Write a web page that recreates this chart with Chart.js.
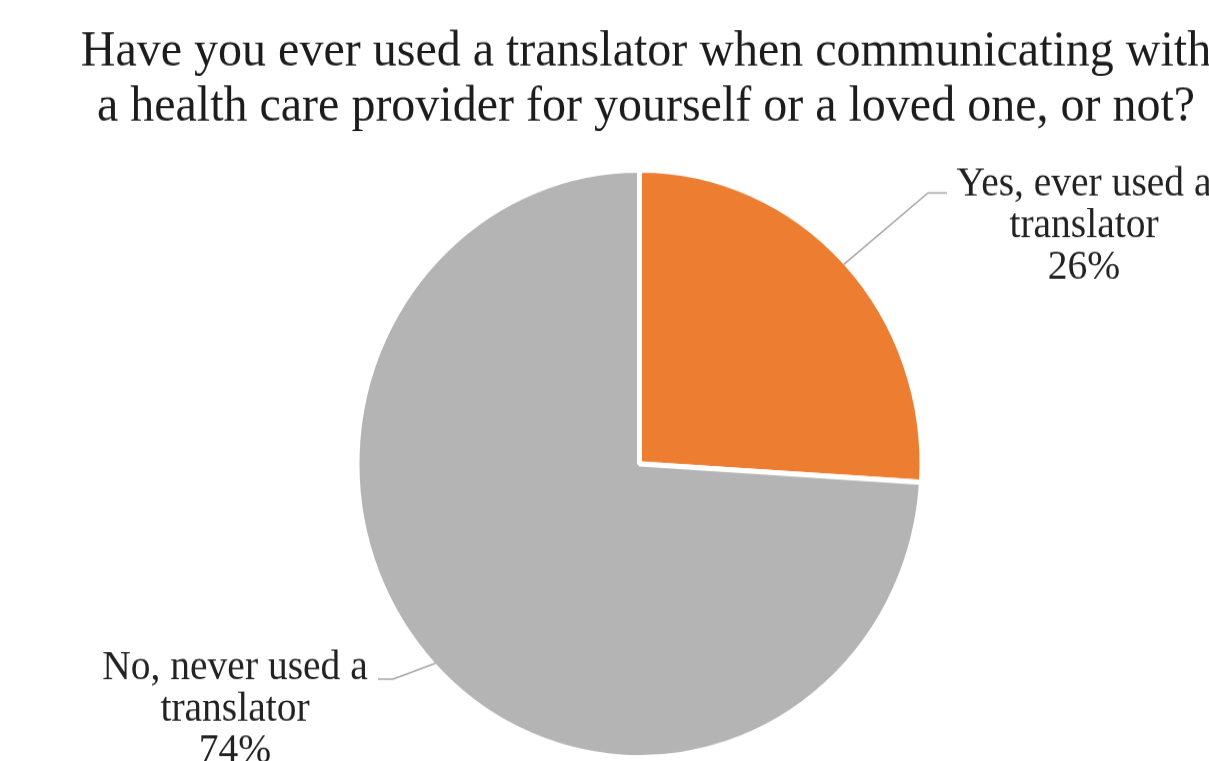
<!DOCTYPE html>
<html>
<head>
<meta charset="utf-8">
<script src="https://cdn.jsdelivr.net/npm/chart.js@4.4.0/dist/chart.umd.min.js"></script>
<style>
  html, body { margin: 0; padding: 0; background: #fff; }
  body { width: 1209px; height: 761px; overflow: hidden; }
  /* the source picture is a little taller than wide, so stretch the whole chart */
  #wrap { width: 1209px; height: 732px; transform: scaleY(1.04); transform-origin: 0 0; }
</style>
</head>
<body>
<div id="wrap"><canvas id="chart"></canvas></div>
<script>
const titleLines = [
  'Have you ever used a translator when communicating with',
  'a health care provider for yourself or a loved one, or not?'
];
const categories = ['Yes, ever used a translator', 'No, never used a translator'];
const labelLines = [['Yes, ever used a', 'translator'], ['No, never used a', 'translator']];
const shares = [26, 74];
const colors = ['#ED7D31', '#B4B4B4'];

// where each callout text and its leader line go
const callouts = [
  { x: 1084, y: 187.5, bend: [928, 185.5], end: [947, 185.5] },
  { x: 235, y: 653, bend: [393, 653], end: [378, 653] }
];

const calloutPlugin = {
  id: 'callouts',
  afterDraw(chart) {
    const ctx = chart.ctx;
    const meta = chart.getDatasetMeta(0);
    ctx.save();
    ctx.textAlign = 'center';
    ctx.textBaseline = 'alphabetic';

    // title
    ctx.fillStyle = '#1c1c1c';
    ctx.font = '48px "Liberation Serif"';
    titleLines.forEach((t, i) => ctx.fillText(t, 646, 62.5 + i * 53));

    // data labels with leader lines
    meta.data.forEach((arc, i) => {
      const { x, y, startAngle, endAngle, outerRadius } =
        arc.getProps(['x', 'y', 'startAngle', 'endAngle', 'outerRadius'], true);
      const mid = (startAngle + endAngle) / 2;
      const r = outerRadius - 2.5;
      const c = callouts[i];
      ctx.strokeStyle = '#a6a6a6';
      ctx.lineWidth = 1.5;
      ctx.beginPath();
      ctx.moveTo(x + Math.cos(mid) * r, y + Math.sin(mid) * r);
      ctx.lineTo(c.bend[0], c.bend[1]);
      ctx.lineTo(c.end[0], c.end[1]);
      ctx.stroke();

      ctx.fillStyle = '#222';
      ctx.font = '39.5px "Liberation Serif"';
      const lines = [...labelLines[i], shares[i] + '%'];
      lines.forEach((l, j) => ctx.fillText(l, c.x, c.y + j * 40));
    });
    ctx.restore();
  }
};

new Chart(document.getElementById('chart'), {
  type: 'pie',
  data: {
    labels: categories,
    datasets: [{
      data: shares,
      backgroundColor: colors,
      borderColor: '#ffffff',
      borderWidth: 5
    }]
  },
  options: {
    responsive: true,
    maintainAspectRatio: false,
    animation: false,
    events: [],
    layout: {
      padding: { top: 161, bottom: 1, left: 70, right: 0 }
    },
    plugins: {
      legend: { display: false },
      tooltip: { enabled: false },
      title: { display: false }
    }
  },
  plugins: [calloutPlugin]
});
</script>
</body>
</html>
